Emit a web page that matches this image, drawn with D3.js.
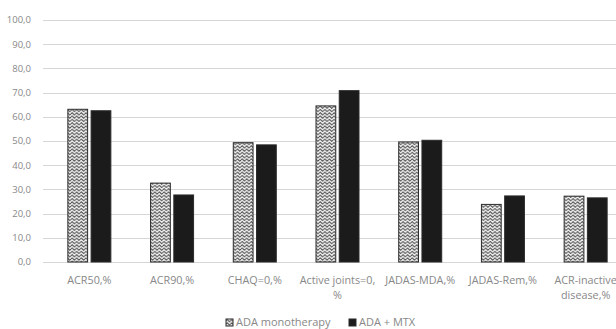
<!DOCTYPE html>
<html>
<head>
<meta charset="utf-8">
<script src="https://cdn.jsdelivr.net/npm/d3@7/dist/d3.min.js"></script>
<style>
  html, body { margin: 0; padding: 0; background: #fff; }
  svg { display: block; }
  text { font-family: "Open Sans", "Noto Sans", sans-serif; fill: #888; }
</style>
</head>
<body>
<script>
// Outcome categories (x axis)
const categories = [
  ["ACR50,%"],
  ["ACR90,%"],
  ["CHAQ=0,%"],
  ["Active joints=0,", "%"],
  ["JADAS-MDA,%"],
  ["JADAS-Rem,%"],
  ["ACR-inactive", "disease,%"]
];
const categoryKeys = categories.map(c => c.join(" "));

// Series
const seriesNames = ["ADA monotherapy", "ADA + MTX"];
const adaMono = [63.1, 32.6, 49.3, 64.5, 49.6, 23.8, 27.2];
const adaMtx  = [62.5, 27.7, 48.4, 70.8, 50.3, 27.3, 26.5];

// Y axis ticks
const yTicks = [0, 10, 20, 30, 40, 50, 60, 70, 80, 90, 100];

const W = 616, H = 329;
const svg = d3.select("body").append("svg").attr("width", W).attr("height", H);

// Wavy hatch used for the monotherapy bars
const defs = svg.append("defs");
const pat = defs.append("pattern")
  .attr("id", "wave")
  .attr("patternUnits", "userSpaceOnUse")
  .attr("width", 4.6).attr("height", 3.3);
pat.append("rect").attr("width", 4.6).attr("height", 3.3).attr("fill", "#f2f2f2");
pat.append("path")
  .attr("d", "M0,1.65 L1.15,0.5 L2.3,1.65 L3.45,2.8 L4.6,1.65")
  .attr("fill", "none").attr("stroke", "#404040").attr("stroke-width", 0.9);

const gridLeft = 43, gridRight = 616;
const x = d3.scaleBand().domain(categoryKeys).range([48, 627]).padding(0);
const xs = d3.scaleBand().domain(seriesNames).range([-21.5, 21.5]).paddingInner(0.15);
const y = d3.scaleLinear().domain([0, 100]).range([262, 20]);
const fmt = v => d3.format(".1f")(v).replace(".", ",");

// Horizontal gridlines
svg.append("g").selectAll("line").data(yTicks).join("line")
  .attr("x1", gridLeft).attr("x2", gridRight)
  .attr("y1", d => Math.round(y(d)) + 0.5).attr("y2", d => Math.round(y(d)) + 0.5)
  .attr("stroke", "#d6d6d6").attr("stroke-width", 1);

// Y tick labels
svg.append("g").selectAll("text").data(yTicks).join("text")
  .attr("x", 31).attr("y", d => y(d))
  .attr("dy", "0.35em")
  .attr("text-anchor", "end")
  .attr("font-size", 9.5)
  .text(fmt);

// Bars
const rows = categoryKeys.map((k, i) => ({ key: k, vals: [adaMono[i], adaMtx[i]] }));
const groups = svg.append("g").selectAll("g").data(rows).join("g")
  .attr("transform", d => `translate(${x(d.key) + x.bandwidth() / 2},0)`);

groups.selectAll("rect")
  .data(d => d.vals.map((v, j) => ({ s: seriesNames[j], v })))
  .join("rect")
  .attr("x", d => xs(d.s))
  .attr("width", xs.bandwidth())
  .attr("y", d => y(d.v))
  .attr("height", d => y(0) - y(d.v))
  .attr("fill", d => d.s === seriesNames[0] ? "url(#wave)" : "#1b1b1b")
  .attr("stroke", "#2a2a2a")
  .attr("stroke-width", 1);

// Category labels
const labels = svg.append("g").selectAll("text").data(categories).join("text")
  .attr("x", (d, i) => x(categoryKeys[i]) + x.bandwidth() / 2)
  .attr("y", 284)
  .attr("text-anchor", "middle")
  .attr("font-size", 10.8);
labels.selectAll("tspan").data(d => d).join("tspan")
  .attr("x", function () { return d3.select(this.parentNode).attr("x"); })
  .attr("dy", (d, i) => i === 0 ? 0 : 15)
  .text(d => d);

// Legend
const legend = svg.append("g").attr("transform", "translate(226,319)");
const items = legend.selectAll("g").data(seriesNames).join("g")
  .attr("transform", (d, i) => `translate(${i === 0 ? 0 : 123},0)`);
items.append("rect")
  .attr("width", 7).attr("height", 7)
  .attr("fill", (d, i) => i === 0 ? "url(#wave)" : "#1b1b1b")
  .attr("stroke", "#2a2a2a").attr("stroke-width", 1);
items.append("text")
  .attr("x", 10).attr("y", 3.5).attr("dy", "0.35em")
  .attr("font-size", 11)
  .text(d => d);
</script>
</body>
</html>
